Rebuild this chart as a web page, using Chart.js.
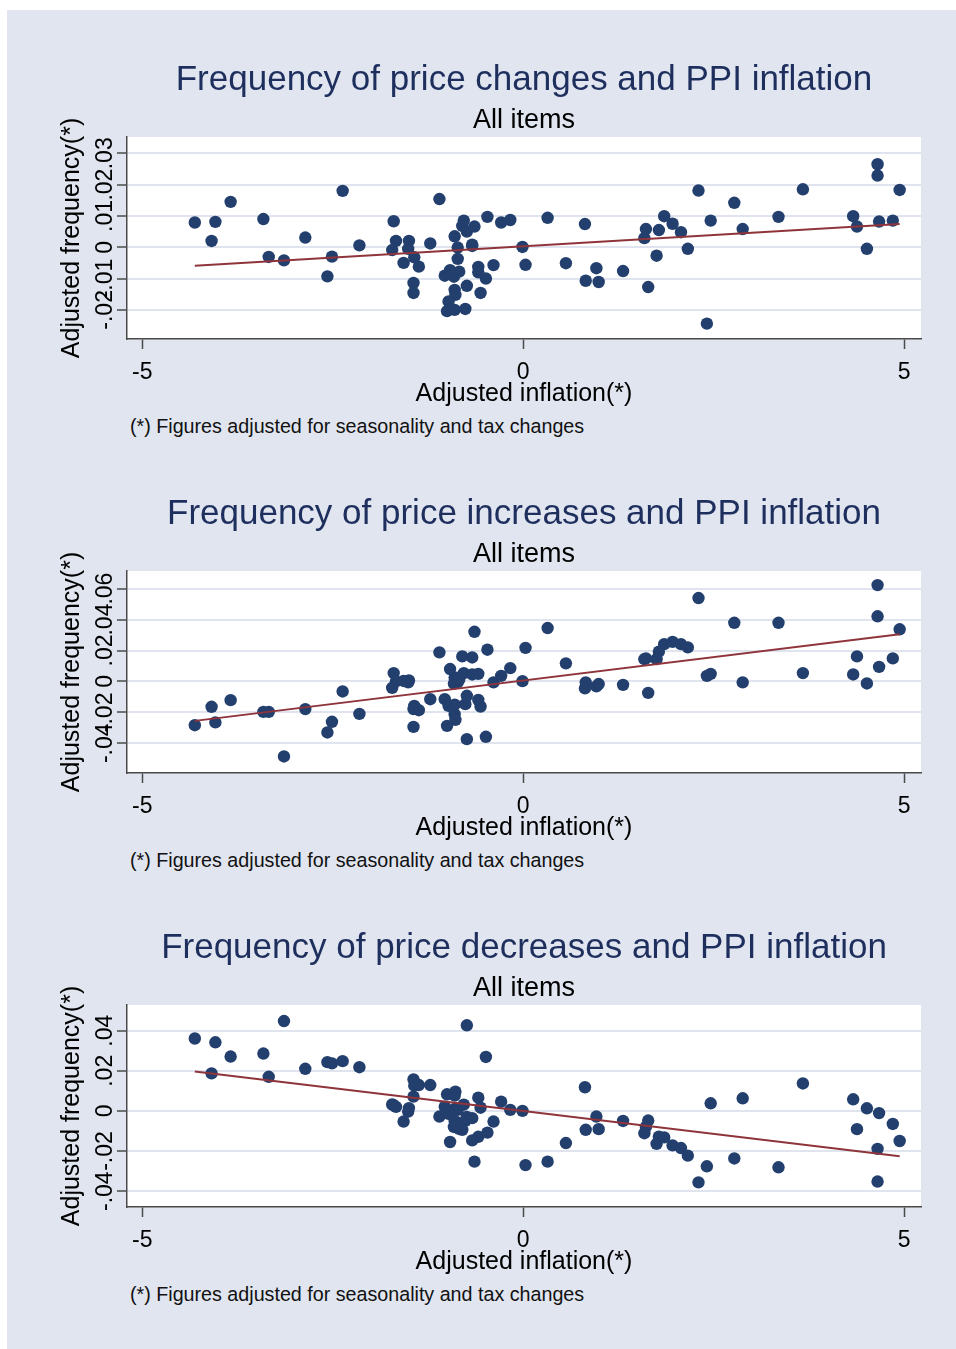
<!DOCTYPE html>
<html>
<head>
<meta charset="utf-8">
<script src="https://cdn.jsdelivr.net/npm/chart.js@4/dist/chart.umd.min.js"></script>
<style>
  body { margin: 0; background: #fff; width: 956px; height: 1349px; position: relative; overflow: hidden; font-family: "Liberation Sans", Arial, sans-serif; }
  #fondo { position: absolute; left: 7px; top: 10px; width: 949px; height: 1339px; background: #e0e5ef; }
  canvas { position: absolute; left: 7px; }
  .nota { position: absolute; left: 130px; font-size: 19.7px; line-height: 20px; color: #111; white-space: nowrap; }
</style>
</head>
<body>
<div id="fondo"></div>
<canvas id="c1" width="949" height="370" style="top:40px"></canvas>
<div class="nota" style="top:416px">(*) Figures adjusted for seasonality and tax changes</div>
<canvas id="c2" width="949" height="370" style="top:474px"></canvas>
<div class="nota" style="top:850px">(*) Figures adjusted for seasonality and tax changes</div>
<canvas id="c3" width="949" height="370" style="top:908px"></canvas>
<div class="nota" style="top:1284px">(*) Figures adjusted for seasonality and tax changes</div>
<script>
// adjusted PPI inflation (x), same months in the three panels
const inflation = [
  -4.31, -4.04, -4.09, -3.84, -3.41, -3.34, -3.14, -2.86, -2.57, -2.51,
  -2.37, -2.15, -1.70, -1.67, -1.72, -1.50, -1.51, -1.57, -1.43, -1.37,
  -1.44, -1.44, -1.22, -1.10, -0.90, -0.86, -0.86, -1.03, -0.91, -0.84,
  -0.96, -0.90, -0.89, -0.98, -1.00, -0.90, -0.76, -0.74, -0.78, -0.80,
  -0.74, -0.64, -0.67, -0.59, -0.59, -0.49, -0.56, -0.47, -0.39, -0.29,
  -0.17, -0.01, 0.03, 0.32, 0.56, 0.81, 0.82, 0.96, 0.99, 1.31,
  1.61, 1.59, 1.78, 1.75, 1.64, 1.85, 1.96, 2.07, 2.16, 2.30,
  2.46, 2.41, 2.77, 2.88, 3.35, 3.67, 4.33, 4.38, 4.51, 4.65,
  4.65, 4.67, 4.85, 4.94, -0.67
];

const freqChanges = [
  0.0079, 0.0081, 0.0020, 0.0145, 0.0090, -0.0031, -0.0042, 0.0031, -0.0093, -0.0030,
  0.0180, 0.0006, 0.0083, 0.0020, -0.0009, 0.0020, -0.0005, -0.0050, -0.0032, -0.0062,
  -0.0114, -0.0146, 0.0012, 0.0154, 0.0035, -0.0001, -0.0037, -0.0091, -0.0094, -0.0078,
  -0.0073, -0.0136, -0.0152, -0.0173, -0.0204, -0.0200, -0.0197, -0.0123, 0.0085, 0.0068,
  0.0050, 0.0066, 0.0004, -0.0063, -0.0080, -0.0100, -0.0146, 0.0097, -0.0057, 0.0079,
  0.0087, 0.0001, -0.0056, 0.0094, -0.0051, 0.0074, -0.0107, -0.0067, -0.0111, -0.0076,
  0.0058, 0.0029, 0.0055, -0.0027, -0.0127, 0.0099, 0.0075, 0.0048, -0.0005, 0.0181,
  0.0085, -0.0244, 0.0142, 0.0058, 0.0097, 0.0185, 0.0099, 0.0066, -0.0005, 0.0265,
  0.0229, 0.0082, 0.0085, 0.0183, 0.0008
];

const freqIncreases = [
  -0.0283, -0.0265, -0.0164, -0.0121, -0.0197, -0.0197, -0.0485, -0.0179, -0.0330, -0.0261,
  -0.0065, -0.0210, 0.0054, 0.0000, -0.0041, 0.0006, -0.0006, 0.0003, -0.0158, -0.0186,
  -0.0179, -0.0294, -0.0115, 0.0188, 0.0025, -0.0006, 0.0023, -0.0115, -0.0014, 0.0012,
  0.0080, -0.0212, -0.0248, -0.0158, -0.0287, -0.0150, -0.0147, -0.0093, 0.0054, 0.0162,
  -0.0373, 0.0321, 0.0045, -0.0119, 0.0049, -0.0358, -0.0162, 0.0205, -0.0006, 0.0036,
  0.0086, 0.0002, 0.0217, 0.0345, 0.0117, -0.0045, -0.0006, -0.0032, -0.0017, -0.0022,
  0.0149, 0.0144, 0.0192, 0.0144, -0.0074, 0.0241, 0.0256, 0.0241, 0.0220, 0.0539,
  0.0049, 0.0036, 0.0379, -0.0006, 0.0379, 0.0054, 0.0045, 0.0162, -0.0013, 0.0623,
  0.0421, 0.0094, 0.0149, 0.0337, 0.0155
];

const freqDecreases = [
  0.0361, 0.0342, 0.0187, 0.0271, 0.0286, 0.0170, 0.0448, 0.0210, 0.0243, 0.0237,
  0.0248, 0.0218, 0.0029, 0.0020, 0.0032, 0.0014, -0.0003, -0.0053, 0.0126, 0.0129,
  0.0071, 0.0157, 0.0129, -0.0028, 0.0010, 0.0005, -0.0060, 0.0021, -0.0080, -0.0090,
  -0.0155, 0.0076, 0.0096, -0.0015, 0.0083, -0.0050, -0.0050, -0.0030, 0.0031, -0.0094,
  0.0427, -0.0253, -0.0036, 0.0066, -0.0129, 0.0269, 0.0016, -0.0108, -0.0053, 0.0046,
  0.0005, 0.0000, -0.0270, -0.0253, -0.0160, 0.0118, -0.0094, -0.0028, -0.0091, -0.0050,
  -0.0080, -0.0111, -0.0128, -0.0164, -0.0048, -0.0132, -0.0172, -0.0185, -0.0223, -0.0356,
  0.0038, -0.0276, -0.0237, 0.0063, -0.0281, 0.0137, 0.0058, -0.0091, 0.0013, -0.0352,
  -0.0189, -0.0011, -0.0065, -0.0150, -0.0147
];

const xTicks = [-5, 0, 5];
const xTickLabels = ['-5', '0', '5'];
const xRange = [-5.2, 5.22];

const yTicks1 = [-0.02, -0.01, 0, 0.01, 0.02, 0.03];
const yTickLabels1 = ['-.02', '-.01', '0', '.01', '.02', '.03'];
const yRange1 = [-0.0293, 0.0352];

const yTicks2 = [-0.04, -0.02, 0, 0.02, 0.04, 0.06];
const yTickLabels2 = ['-.04', '-.02', '0', '.02', '.04', '.06'];
const yRange2 = [-0.0592, 0.0714];

const yTicks3 = [-0.04, -0.02, 0, 0.02, 0.04];
const yTickLabels3 = ['-.04', '-.02', '0', '.02', '.04'];
const yRange3 = [-0.0479, 0.0528];

const fam = '"Liberation Sans", Arial, Helvetica, sans-serif';

// white plot region like Stata's plotregion
const fondoBlanco = {
  id: 'fondoBlanco',
  beforeDraw(chart) {
    const a = chart.chartArea;
    const ctx = chart.ctx;
    ctx.save();
    ctx.fillStyle = '#ffffff';
    ctx.fillRect(a.left, a.top, a.right - a.left, a.bottom - a.top);
    ctx.restore();
  }
};

// linear fit (lfit)
function lineaAjuste(xs, ys) {
  var n = xs.length, mx = 0, my = 0;
  for (var i = 0; i < n; i++) { mx += xs[i]; my += ys[i]; }
  mx /= n; my /= n;
  var sxy = 0, sxx = 0;
  for (var i = 0; i < n; i++) {
    sxy += (xs[i] - mx) * (ys[i] - my);
    sxx += (xs[i] - mx) * (xs[i] - mx);
  }
  var b = sxy / sxx;
  var a = my - b * mx;
  var x0 = Math.min(...xs), x1 = Math.max(...xs);
  return [{x: x0, y: a + b * x0}, {x: x1, y: a + b * x1}];
}

function pintarPanel(id, titulo, ys, yTicks, yLabels, yRange) {
  var puntos = inflation.map(function (x, i) { return {x: x, y: ys[i]}; });

  new Chart(document.getElementById(id), {
    type: 'scatter',
    data: {
      datasets: [
        {
          type: 'line',
          data: lineaAjuste(inflation, ys),
          borderColor: '#8f343b',
          borderWidth: 2,
          pointRadius: 0,
          order: 0
        },
        {
          data: puntos,
          backgroundColor: '#233f6e',
          borderColor: '#233f6e',
          borderWidth: 0,
          pointRadius: 6.2,
          order: 1
        }
      ]
    },
    options: {
      responsive: false,
      animation: false,
      layout: { padding: { left: 0, right: 35, top: 0, bottom: 1 } },
      plugins: {
        legend: { display: false },
        tooltip: { enabled: false },
        title: {
          display: true, text: titulo, fullSize: false, color: '#1e2f5e',
          font: { family: fam, size: 35, weight: 'normal' },
          padding: { top: 19.2, bottom: 0 }
        },
        subtitle: {
          display: true, text: 'All items', fullSize: false, color: '#000',
          font: { family: fam, size: 27, weight: 'normal' },
          padding: { top: 3.1, bottom: 0.3 }
        }
      },
      scales: {
        x: {
          type: 'linear',
          min: xRange[0], max: xRange[1],
          afterBuildTicks: function (s) { s.ticks = xTicks.map(function (v) { return {value: v}; }); },
          afterFit: function (s) { s.height = 70; },
          grid: { display: true, drawOnChartArea: false, drawTicks: true, tickLength: 10, tickColor: '#4a4a4a', tickWidth: 1.5 },
          border: { display: true, color: '#4a4a4a', width: 1.5 },
          ticks: {
            color: '#000', font: { family: fam, size: 23 }, padding: 9.5,
            maxRotation: 0, autoSkip: false,
            callback: function (v, i) { return xTickLabels[i]; }
          },
          title: {
            display: true, text: 'Adjusted inflation(*)', color: '#000',
            font: { family: fam, size: 25 }, padding: { top: 0, bottom: 0 }
          }
        },
        y: {
          type: 'linear',
          min: yRange[0], max: yRange[1],
          afterBuildTicks: function (s) { s.ticks = yTicks.map(function (v) { return {value: v}; }); },
          afterFit: function (s) { s.width = 120; },
          grid: { color: '#dfe4ee', lineWidth: 2, drawTicks: true, tickLength: 10, tickColor: '#4a4a4a', tickWidth: 1.5 },
          border: { display: true, color: '#4a4a4a', width: 1.5 },
          ticks: {
            color: '#000', font: { family: fam, size: 23 }, padding: -8,
            minRotation: 90, maxRotation: 90, crossAlign: 'center', autoSkip: false,
            callback: function (v, i) { return yLabels[i]; }
          },
          title: {
            display: true, text: 'Adjusted frequency(*)', color: '#000',
            font: { family: fam, size: 25 }, padding: { top: 50, bottom: 0 }
          }
        }
      }
    },
    plugins: [fondoBlanco]
  });
}

pintarPanel('c1', 'Frequency of price changes and PPI inflation', freqChanges, yTicks1, yTickLabels1, yRange1);
pintarPanel('c2', 'Frequency of price increases and PPI inflation', freqIncreases, yTicks2, yTickLabels2, yRange2);
pintarPanel('c3', 'Frequency of price decreases and PPI inflation', freqDecreases, yTicks3, yTickLabels3, yRange3);
</script>
</body>
</html>
